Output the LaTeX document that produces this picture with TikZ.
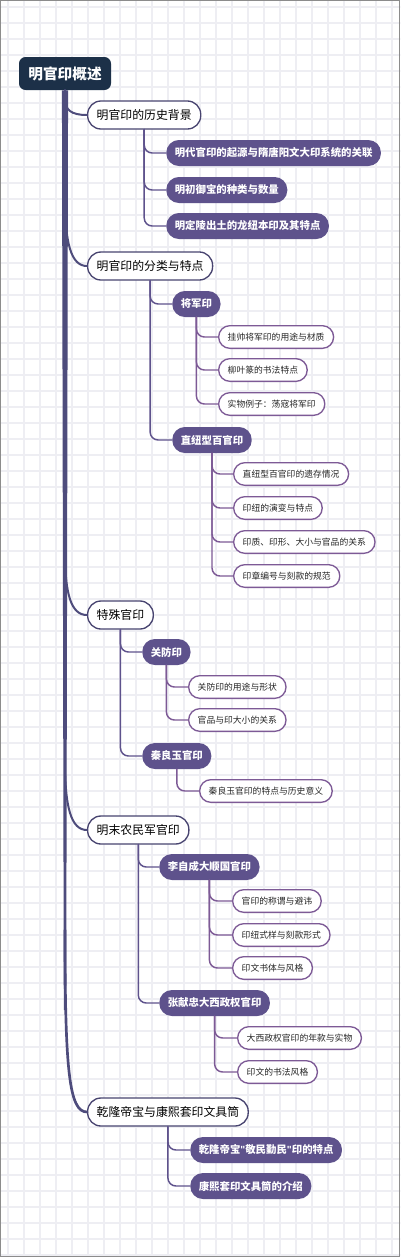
\documentclass[tikz,border=0pt]{standalone}
\usepackage{fontspec}
\setmainfont{Noto Sans CJK SC}
\newfontfamily\latinq{Liberation Sans}
\usepackage{tikz}
\usepackage{xcolor}
\definecolor{rootnavy}{RGB}{28,48,72}
\definecolor{trunkcol}{RGB}{78,76,124}
\definecolor{topicline}{RGB}{72,68,112}
\definecolor{subfill}{RGB}{94,82,140}
\definecolor{leafline}{RGB}{125,90,150}
\definecolor{gridcol}{RGB}{238,238,243}

\begin{document}
\begin{tikzpicture}[x=0.75pt,y=-0.75pt,line cap=round,
  rootbox/.style={fill=rootnavy,rounded corners=5pt,text=white,font=\fontsize{11}{13}\selectfont\bfseries,inner xsep=7pt,minimum height=24.75pt},
  topic/.style={draw=topicline,line width=1pt,fill=white,rounded corners=10pt,font=\fontsize{8.9}{10}\selectfont,inner xsep=6.8pt,minimum height=21pt,anchor=west},
  sub/.style={fill=subfill,rounded corners=9.5pt,text=white,font=\fontsize{7.8}{9}\selectfont\bfseries,inner xsep=6.4pt,minimum height=19.5pt,anchor=west},
  leaf/.style={draw=leafline,line width=1pt,fill=white,rounded corners=8.4pt,text=black!85,font=\fontsize{6.6}{8}\selectfont,inner xsep=6.8pt,minimum height=17pt,anchor=west},
  trunk/.style={draw=trunkcol,line width=1.5pt},
  twig/.style={draw=subfill,line width=1.1pt,rounded corners=6pt},
  leaftwig/.style={draw=leafline,line width=1.1pt,rounded corners=6pt}]
\useasboundingbox (0,0) rectangle (400,1257);
\fill[white] (0,0) rectangle (400,1257);
\foreach \gx in {8,24,...,392} \draw[gridcol,line width=1pt] (\gx,0) -- (\gx,1257);
\foreach \gy in {7,23,...,1255} \draw[gridcol,line width=1pt] (0,\gy) -- (400,\gy);
\draw[black!45,line width=1.1pt] (0.75,0.75) rectangle (399.25,1256.25);

\node[rootbox] (root) at (65,73.5) {明官印概述};

\node[topic] (hist) at (87,115) {明官印的历史背景};
\node[topic] (cls) at (87,266) {明官印的分类与特点};
\node[topic] (spec) at (87,615) {特殊官印};
\node[topic] (peas) at (87,830) {明末农民军官印};
\node[topic] (qian) at (87,1112) {乾隆帝宝与康熙套印文具筒};

\node[sub] (h1) at (166,153) {明代官印的起源与隋唐阳文大印系统的关联};
\node[sub] (h2) at (166,190) {明初御宝的种类与数量};
\node[sub] (h3) at (166,226) {明定陵出土的龙纽本印及其特点};
\node[sub] (gen) at (172,304) {将军印};
\node[sub] (zhi) at (172,440) {直纽型百官印};
\node[sub] (gf) at (142,652) {关防印};
\node[sub] (qly) at (142,756) {秦良玉官印};
\node[sub] (lzc) at (159,867) {李自成大顺国官印};
\node[sub] (zxz) at (159,1003) {张献忠大西政权官印};
\node[sub] (q1) at (190,1150) {乾隆帝宝{\latinq"}敬民勤民{\latinq"}印的特点};
\node[sub] (q2) at (190,1186) {康熙套印文具筒的介绍};

\node[leaf] (gen1) at (218,337) {挂帅将军印的用途与材质};
\node[leaf] (gen2) at (218,370) {柳叶篆的书法特点};
\node[leaf] (gen3) at (218,404) {实物例子：荡寇将军印};
\node[leaf] (zhi1) at (233,474) {直纽型百官印的遗存情况};
\node[leaf] (zhi2) at (233,508) {印纽的演变与特点};
\node[leaf] (zhi3) at (233,542) {印质、印形、大小与官品的关系};
\node[leaf] (zhi4) at (233,576) {印章编号与刻款的规范};
\node[leaf] (gf1) at (188,687) {关防印的用途与形状};
\node[leaf] (gf2) at (188,720) {官品与印大小的关系};
\node[leaf] (qly1) at (199,791) {秦良玉官印的特点与历史意义};
\node[leaf] (lzc1) at (232,901) {官印的称谓与避讳};
\node[leaf] (lzc2) at (232,935) {印纽式样与刻款形式};
\node[leaf] (lzc3) at (232,968) {印文书体与风格};
\node[leaf] (zxz1) at (237,1038) {大西政权官印的年款与实物};
\node[leaf] (zxz2) at (237,1072) {印文的书法风格};

% trunk: tapered stem down to the last topic, thin branches peel off
\fill[trunkcol] ([xshift=-2.3pt]root.south) -- ([xshift=2.3pt]root.south)
  -- ([xshift=0.9pt]root.south |- 0,1010) -- ([xshift=-0.9pt]root.south |- 0,1010) -- cycle;
\draw[trunk,line width=2pt] (root.south |- 0,930) .. controls +(0,140) and +(-18,0) .. (qian.west);
\foreach \c/\h in {hist/12,cls/52,spec/48,peas/52}
  \draw[trunk] (root.south) -- ([yshift=\h pt]root.south |- \c.west)
    .. controls +(0,{0.9*\h}) and +(-16,0) .. (\c.west);

\foreach \a/\b in {hist/h1,hist/h2,hist/h3,cls/gen,cls/zhi,spec/gf,spec/qly,peas/lzc,peas/zxz,qian/q1,qian/q2}
  \draw[twig] (\a.south) |- (\b.west);
\foreach \a/\b in {gen/gen1,gen/gen2,gen/gen3,zhi/zhi1,zhi/zhi2,zhi/zhi3,zhi/zhi4,gf/gf1,gf/gf2,qly/qly1,lzc/lzc1,lzc/lzc2,lzc/lzc3,zxz/zxz1,zxz/zxz2}
  \draw[leaftwig] (\a.south) |- (\b.west);
\end{tikzpicture}
\end{document}
